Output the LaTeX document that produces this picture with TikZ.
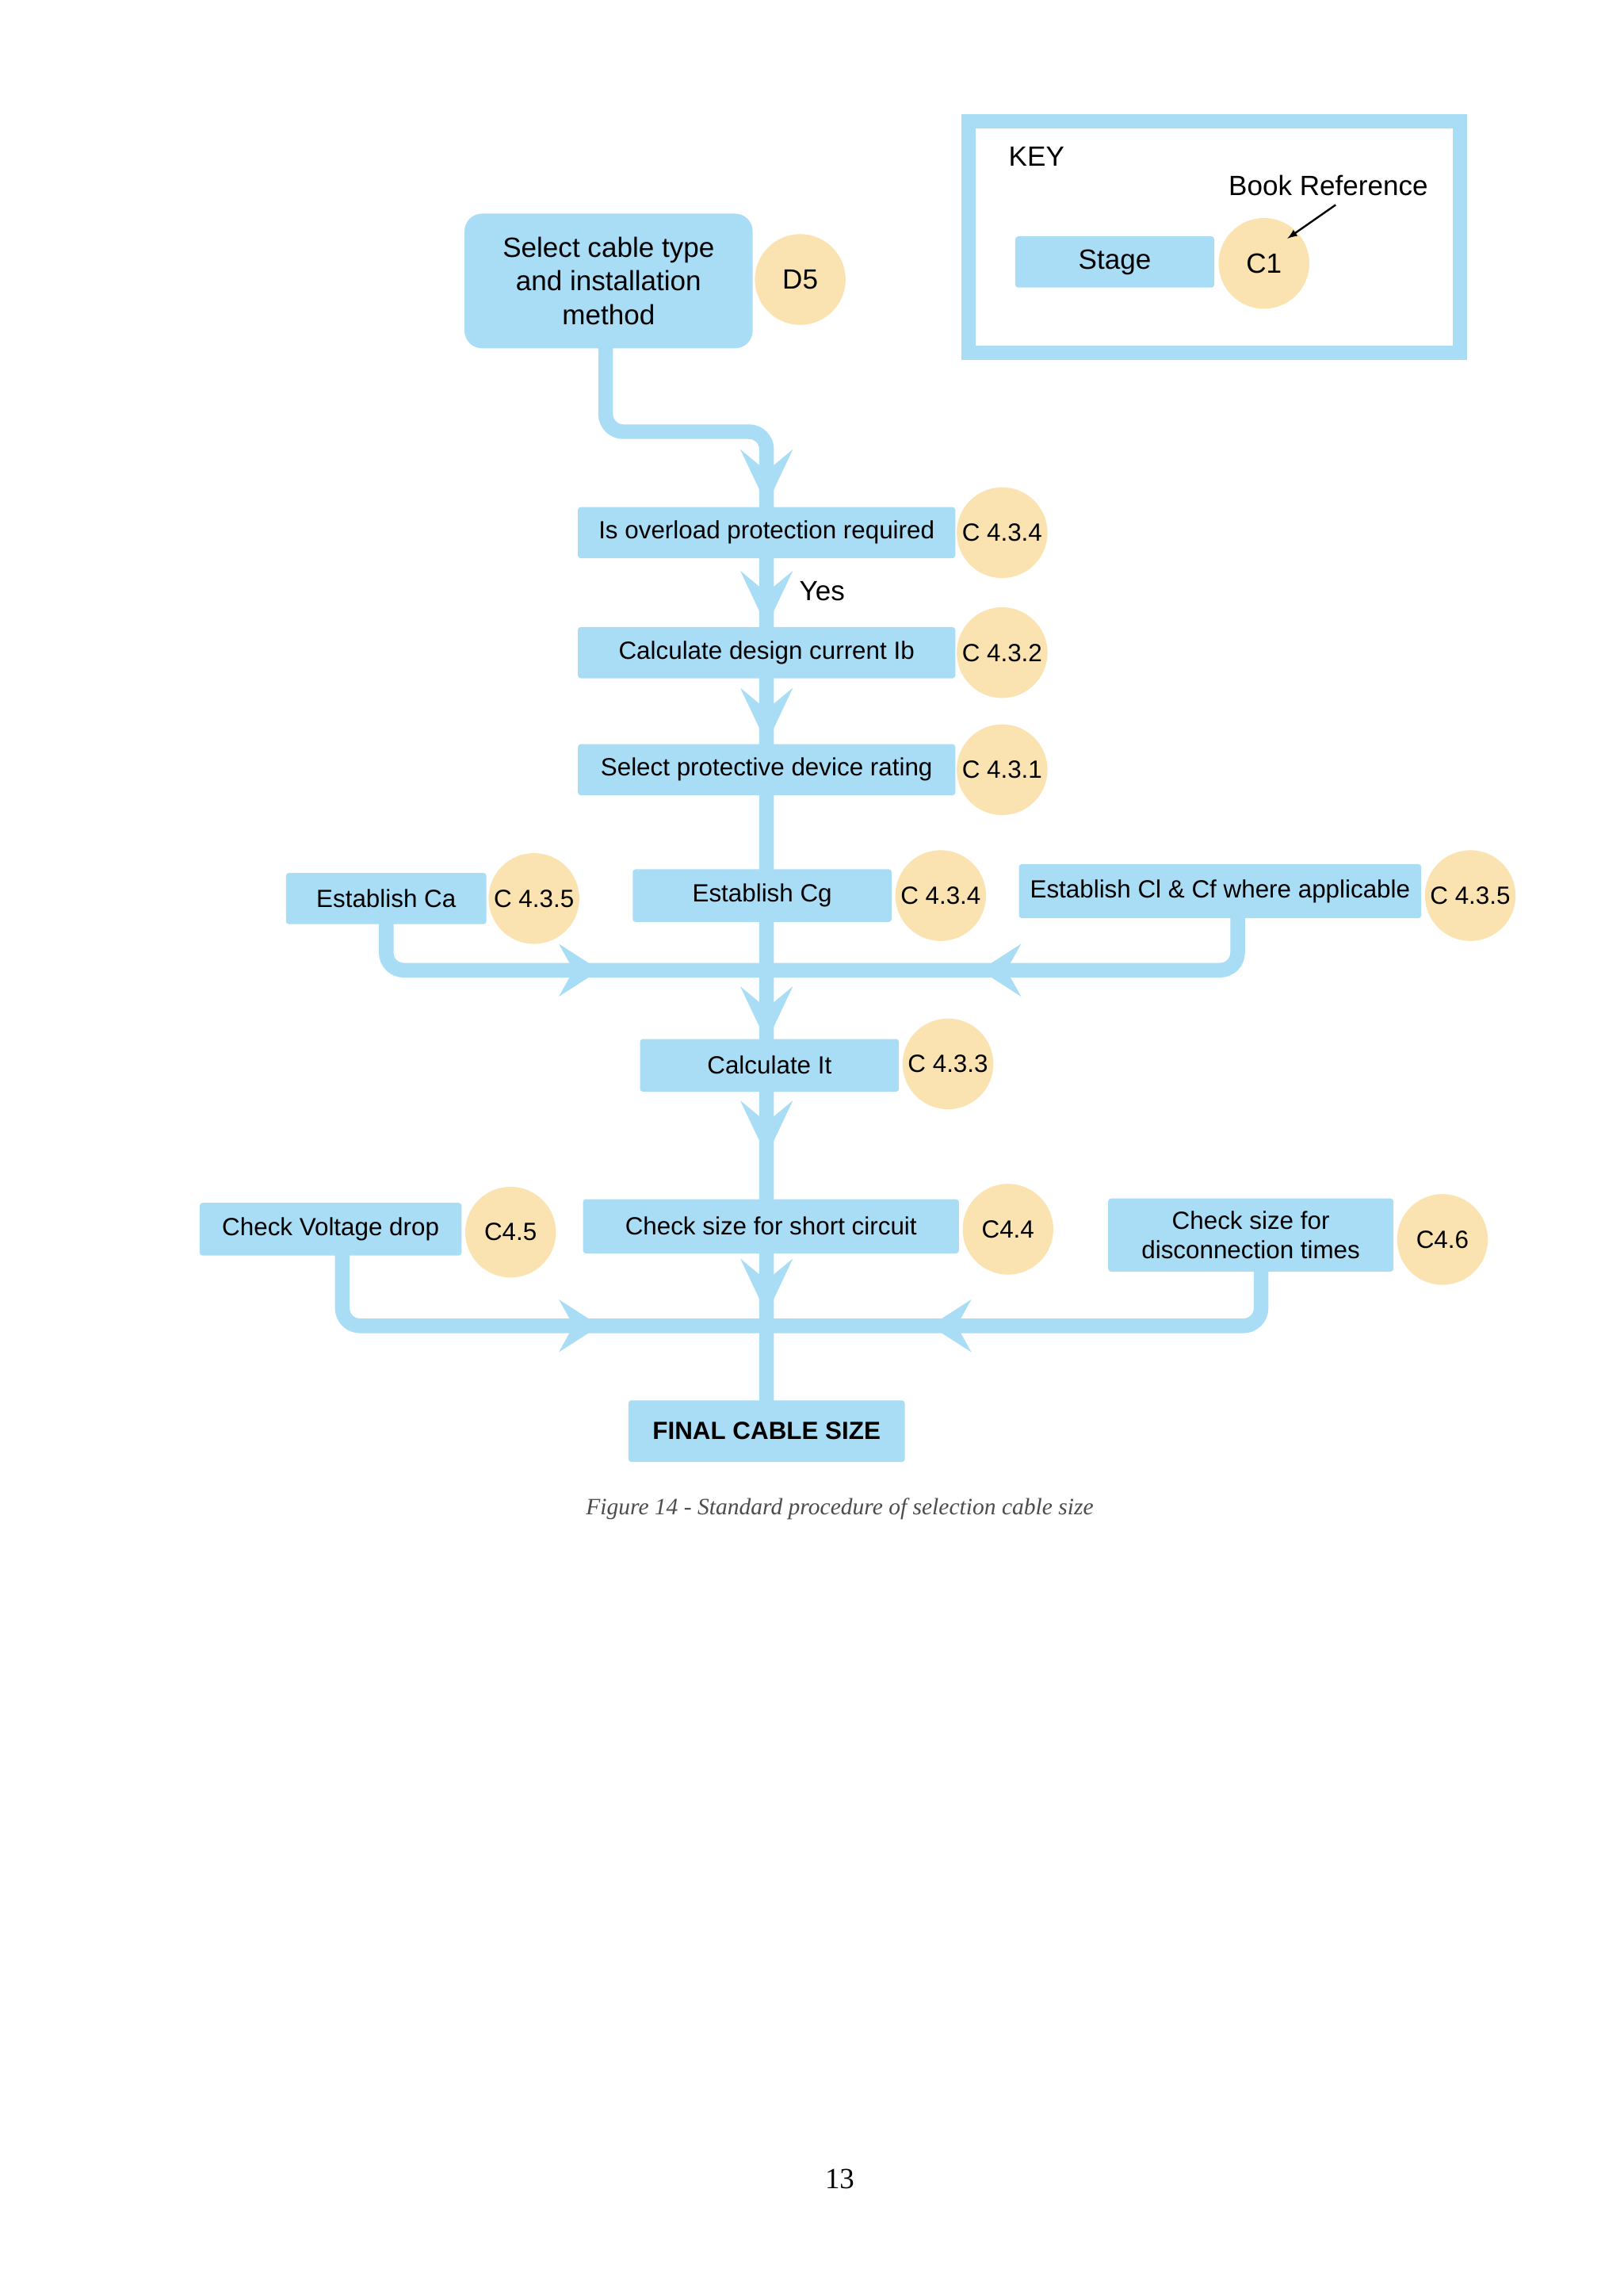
\documentclass[tikz,border=0pt]{standalone}
\usepackage{fontspec}
\setmainfont{Liberation Sans}
\newfontfamily\serifcap{Liberation Serif}
\definecolor{lb}{HTML}{A9DDF6}
\definecolor{lo}{HTML}{FAE3B0}
\begin{document}
\begin{tikzpicture}[x=1pt,y=-1pt,
  stagebox/.style={fill=lb,rounded corners=2pt,inner sep=0pt,font=\fontsize{17}{20}\selectfont},
  flow/.style={draw=lb,line width=10pt,rounded corners=12pt}]
\useasboundingbox (0,0) rectangle (1110,1569);
\fill[white] (0,0) rectangle (1110,1569);
\newcommand\myDn[2]{\fill[lb] (#1,#2) -- ++(-18,-38) -- ++(18,15) -- ++(18,-15) -- cycle;}
\newcommand\myRt[2]{\fill[lb] (#1,#2) -- ++(-28,-18) -- ++(10,18) -- ++(-10,18) -- cycle;}
\newcommand\myLf[2]{\fill[lb] (#1,#2) -- ++(28,-18) -- ++(-10,18) -- ++(10,18) -- cycle;}
\newcommand\myStage[5]{\node[stagebox,minimum width=#3pt,minimum height=#4pt,align=center] (#1) at (#2) {#5};}
\newcommand\myRef[3]{\node[fill=lo,circle,inner sep=0pt,minimum size=62pt,font=\fontsize{17}{20}\selectfont] (#1) at (#2) {#3};}
% key
\draw[lb,line width=10pt] (662,83) rectangle (998,241);
\node[anchor=west,font=\fontsize{19}{22}\selectfont] (key) at (686,107) {KEY};
\node[font=\fontsize{19}{22}\selectfont] (bref) at (908,127) {Book Reference};
\node[stagebox,minimum width=136pt,minimum height=35pt,font=\fontsize{19}{22}\selectfont] (stg) at (762,179) {Stage};
\node[fill=lo,circle,inner sep=0pt,minimum size=62pt,font=\fontsize{19}{22}\selectfont] (c1) at (864,180) {C1};
\coordinate (brefarr) at (913,140);
\draw[-latex,line width=1.3pt] (brefarr) -- (880,163);
% flow lines
\draw[flow] (414,236) -- (414,295) -- (524,295) -- (524,990);
\draw[flow] (264,630) -- (264,663) -- (846,663) -- (846,626);
\draw[flow] (234,856) -- (234,906) -- (862,906) -- (862,866);
% top box
\node[fill=lb,rounded corners=12pt,minimum width=197pt,minimum height=92pt,align=center,font=\fontsize{19}{23}\selectfont,inner sep=0pt] (sel) at (416,192) {Select cable type\\and installation\\method};
\node[fill=lo,circle,inner sep=0pt,minimum size=62pt,font=\fontsize{19}{22}\selectfont] (d5) at (547,191) {D5};
% arrows
\myDn{524}{345}\myDn{524}{428}\myDn{524}{508}\myDn{524}{712}\myDn{524}{790}\myDn{524}{898}
\myRt{410}{663}\myLf{670}{663}\myRt{410}{906}\myLf{636}{906}
\node[font=\fontsize{19}{22}\selectfont] (yes) at (562,404) {Yes};
% stages
\myStage{s1}{524,364}{258}{35}{Is overload protection required}
\myRef{r1}{685,364}{C 4.3.4}
\myStage{s2}{524,446}{258}{35}{Calculate design current Ib}
\myRef{r2}{685,446}{C 4.3.2}
\myStage{s3}{524,526}{258}{35}{Select protective device rating}
\myRef{r3}{685,526}{C 4.3.1}
\myStage{ca}{264,614}{137}{35}{Establish Ca}
\myRef{rca}{365,614}{C 4.3.5}
\myStage{cg}{521,612}{177}{36}{Establish Cg}
\myRef{rcg}{643,612}{C 4.3.4}
\myStage{cl}{834,609}{275}{37}{Establish Cl \& Cf where applicable}
\myRef{rcl}{1005,612}{C 4.3.5}
\myStage{it}{526,728}{177}{36}{Calculate It}
\myRef{rit}{648,727}{C 4.3.3}
\myStage{vd}{226,840}{179}{36}{Check Voltage drop}
\myRef{rvd}{349,842}{C4.5}
\myStage{sc}{527,838}{257}{37}{Check size for short circuit}
\myRef{rsc}{689,840}{C4.4}
\myStage{dt}{855,844}{195}{50}{Check size for\\disconnection times}
\myRef{rdt}{986,847}{C4.6}
\node[stagebox,minimum width=189pt,minimum height=42pt,font=\fontsize{17}{20}\selectfont\bfseries] (fin) at (524,978) {FINAL CABLE SIZE};
\node[font=\serifcap\itshape\fontsize{16}{19}\selectfont,text=black!70] (cap) at (574,1031) {Figure 14 - Standard procedure of selection cable size};
\node[font=\serifcap\fontsize{20}{24}\selectfont] (pg) at (574,1489) {13};
\end{tikzpicture}
\end{document}
